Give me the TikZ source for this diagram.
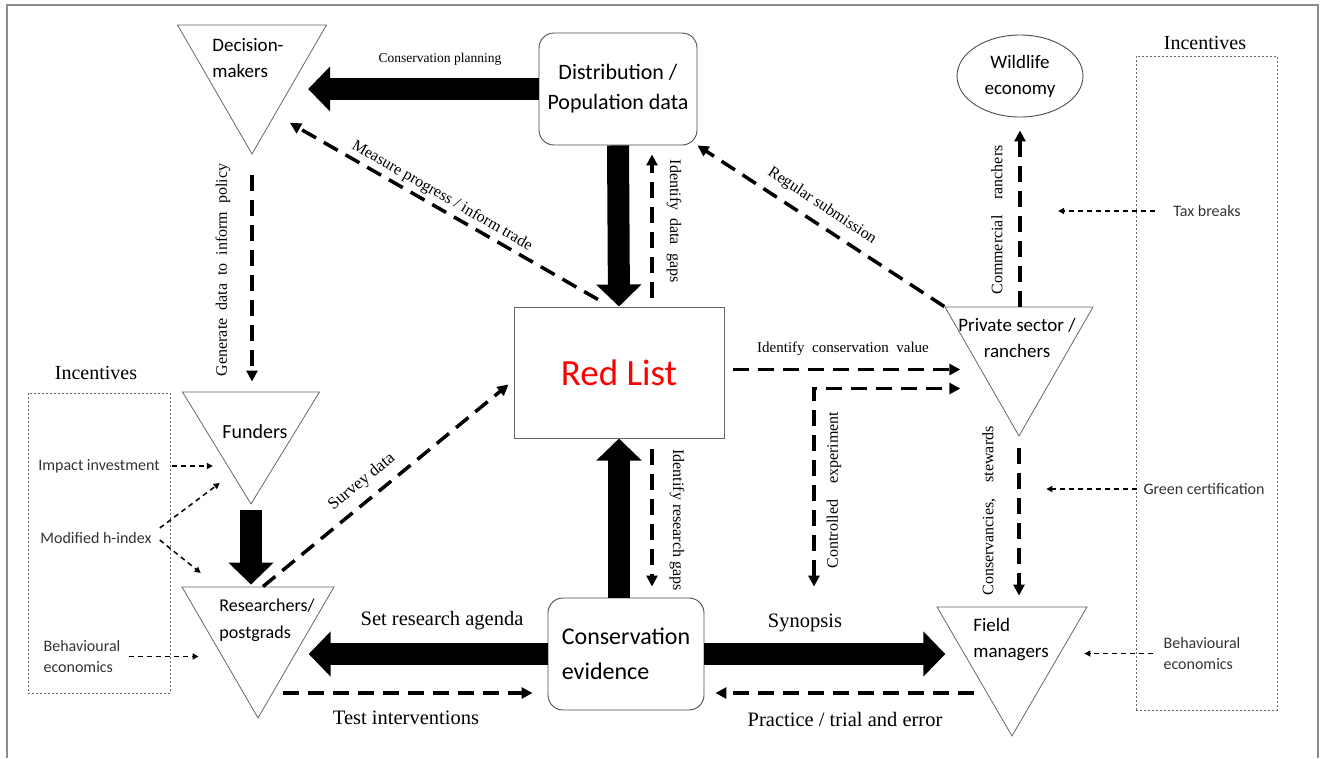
\documentclass[tikz,border=0pt]{standalone}
\usepackage{fontspec}
\setmainfont{Liberation Serif}
\newfontfamily\calfont{Carlito}
\usetikzlibrary{shapes.geometric,arrows.meta,calc}

\tikzset{
  tri/.style 2 args={isosceles triangle, shape border rotate=270,
    isosceles triangle stretches, draw=black!60, line width=0.8pt,
    inner sep=0pt, minimum width=#1, minimum height=#2},
  txt/.style={font=\calfont\fontsize{19}{26}\selectfont, align=center, inner sep=0pt},
  inc/.style={font=\calfont\fontsize{16}{21}\selectfont, text=black!80, align=left, inner sep=0pt},
  lbl/.style={font=\fontsize{16}{18}\selectfont, inner sep=0pt},
  biglbl/.style={font=\fontsize{20.5}{22}\selectfont, inner sep=0pt},
  roundbox/.style={txt, draw=black!70, line width=0.9pt, rounded corners=15pt},
  incbox/.style={draw=black!60, line width=0.9pt, dash pattern=on 2pt off 2pt},
  fat/.style={line width=22pt, -{Triangle[length=22pt,width=44pt]}},
  dsh/.style={line width=3.5pt, dash pattern=on 16pt off 9pt,
    >={Triangle[length=11pt,width=11pt]}, ->},
  dots/.style={line width=1.5pt, dash pattern=on 5pt off 4pt,
    -{Triangle[length=6pt,width=6pt]}},
}

\begin{document}
\begin{tikzpicture}[x=1pt, y=-1pt]
    \useasboundingbox (0,0) rectangle (1330,758);
    \draw[black!45, line width=1.2pt] (7,758) -- (7,5) -- (1318,5) -- (1318,758);

    % actors
    \node[tri={149}{129}, anchor=apex] (dec) at (252,155) {};
    \node[tri={137}{112}, anchor=apex] (fund) at (251,505) {};
    \node[tri={152}{131}, anchor=apex] (res) at (258,719) {};
    \node[tri={148}{129}, anchor=apex] (priv) at (1019,437) {};
    \node[tri={150}{129}, anchor=apex] (field) at (1012,737) {};
    \node[txt, align=left] (dect) at (248,58) {Decision-\\makers};
    \node[txt, font=\calfont\fontsize{20}{24}\selectfont] (fundt) at (255,432) {Funders};
    \node[txt, align=left, font=\calfont\fontsize{18}{27}\selectfont] (rest) at (267,620) {Researchers/\\postgrads};
    \node[txt] (privt) at (1017,338) {Private sector /\\ranchers};
    \node[txt, align=left] (fieldt) at (1011,640) {Field\\managers};

    \node[txt, ellipse, draw=black!70, line width=0.9pt,
          minimum width=126pt, minimum height=82pt] (wild) at (1020,76) {Wildlife\\economy};
    \node[roundbox, minimum width=158pt, minimum height=112pt,
          font=\calfont\fontsize{22}{30}\selectfont] (dist) at (618,89) {Distribution /\\Population data};
    \node[roundbox, minimum width=156pt, minimum height=112pt, align=left,
          font=\calfont\fontsize{24}{35}\selectfont] (cons) at (626,654) {Conservation\\evidence};
    \node[draw=black!60, line width=1pt, minimum width=210pt, minimum height=131pt,
          font=\calfont\fontsize{37}{40}\selectfont, text=red] (red) at (619,372.5) {Red List};

    % incentives
    \node[incbox, minimum width=142pt, minimum height=300pt] (lbox) at (99,543) {};
    \node[incbox, minimum width=141pt, minimum height=654pt] (rbox) at (1206.5,383) {};
    \node[font=\fontsize{20}{22}\selectfont] (linc) at (96,373) {Incentives};
    \node[font=\fontsize{20}{22}\selectfont] (rinc) at (1205,43) {Incentives};
    \node[inc] (imp) at (99,466) {Impact investment};
    \node[inc] (hix) at (96,538) {Modified h-index};
    \node[inc] (bl) at (82,656.5) {Behavioural\\economics};
    \node[inc] (tax) at (1207,211) {Tax breaks};
    \node[inc] (grn) at (1204,489) {Green certification};
    \node[inc] (br) at (1202,653.5) {Behavioural\\economics};

    \draw[dots] ($(imp.east)+(12,0)$) -- ($(imp.east)+(53,0)$);
    \draw[dots] ($(hix.east)+(8,-10)$) -- ($(hix.east)+(68,-55)$);
    \draw[dots] ($(hix.east)+(8,2)$) -- ($(hix.east)+(49,35)$);
    \draw[dots] ($(bl.east)+(8,0)$) -- ($(bl.east)+(78,0)$);
    \draw[dots] ($(tax.west)+(-18,0)$) -- ($(tax.west)+(-115,0)$);
    \draw[dots] ($(grn.west)+(-6,0)$) -- ($(grn.west)+(-97,0)$);
    \draw[dots] ($(br.west)+(-10,0)$) -- ($(br.west)+(-79,0)$);

    % main flows
    \draw[fat] (dist.west) -- ($(dist.west -| dec.left corner)+(-19,0)$);
    \draw[fat] (dist.south) -- (red.north);
    \draw[fat] (red.south |- cons.north) -- (red.south);
    \draw[fat] (cons.west) -- ($(cons.west -| res.left corner)+(-26,0)$);
    \draw[fat] (cons.east) -- ($(cons.east -| field.right corner)+(9,0)$);
    \draw[fat, shorten <=5pt, shorten >=2pt] (fund.apex) -- (fund.apex |- res.left corner);

    % dashed flows
    \coordinate (expv) at ($(red.east -| priv.right corner)+(16,16)$);
    \coordinate (expt) at ($(cons.north)+(188,-11)$);
    \draw[dsh, shorten <=9pt, shorten >=9pt] ($(red.north)+(33,0)$) -- ($(dist.south)+(34,0)$);
    \draw[dsh] ($(red.north)+(-21,-7)$) -- ($(dec.apex)+(38,-32)$);
    \draw[dsh] (priv.right corner) -- (dist.south east);
    \draw[dsh, shorten >=13pt] (wild.south |- priv.left corner) -- (wild.south);
    \draw[dsh, shorten <=8pt] ($(red.east)+(0,-3)$) -- ($(red.east -| priv.right corner)+(16,-3)$);
    \draw[dsh, <->] (expt) |- (expv);
    \draw[dsh, shorten <=11pt, shorten >=11pt] (priv.apex) -- (priv.apex |- field.left corner);
    \draw[dsh, shorten <=10pt, shorten >=11pt] ($(red.south)+(33,0)$) -- ($(red.south |- cons.north)+(33,0)$);
    \draw[dsh] ($(cons.west -| res.apex)+(25,39)$) -- ($(cons.west)+(-15,39)$);
    \draw[dsh] ($(cons.east -| field.right corner)+(38,39)$) -- ($(cons.east)+(11,39)$);
    \draw[dsh, shorten <=20pt, shorten >=10pt] (dec.apex) -- (dec.apex |- fund.left corner);
    \draw[dsh] ($(res.apex |- res.left corner)+(5,0)$) -- ($(red.west)+(-5,12)$);

    % labels
    \node[lbl, font=\fontsize{13.5}{15}\selectfont] (lplan) at (440,59) {Conservation planning};
    \node[lbl, rotate=-30] (lmeas) at (442,196) {Measure progress / inform trade};
    \node[lbl, rotate=90] (lgen) at (223,270) {Generate\enspace data\enspace to\enspace inform\enspace policy};
    \node[lbl, rotate=-90] (ldat) at (674,221) {Identify\enspace data\enspace gaps};
    \node[lbl, rotate=-33.6] (lreg) at (822,206) {Regular submission};
    \node[lbl, rotate=90] (lcom) at (997,220) {Commercial\quad ranchers};
    \node[lbl, font=\fontsize{15}{17}\selectfont] (lval) at (843,349) {Identify\enspace conservation\enspace value};
    \node[lbl, rotate=90] (lctl) at (834,490) {Controlled\quad experiment};
    \node[lbl, rotate=90] (lstw) at (989,511) {Conservancies,\quad stewards};
    \node[lbl, rotate=-90] (lres) at (677,520) {Identify research gaps};
    \node[lbl, rotate=39.5, font=\fontsize{17}{19}\selectfont] (lsur) at (362,482) {Survey data};
    \node[biglbl] (lset) at (442,621) {Set research agenda};
    \node[biglbl] (lsyn) at (805,623) {Synopsis};
    \node[biglbl] (ltest) at (406,718) {Test interventions};
    \node[biglbl] (lprac) at (845,719) {Practice / trial and error};
\end{tikzpicture}
\end{document}
